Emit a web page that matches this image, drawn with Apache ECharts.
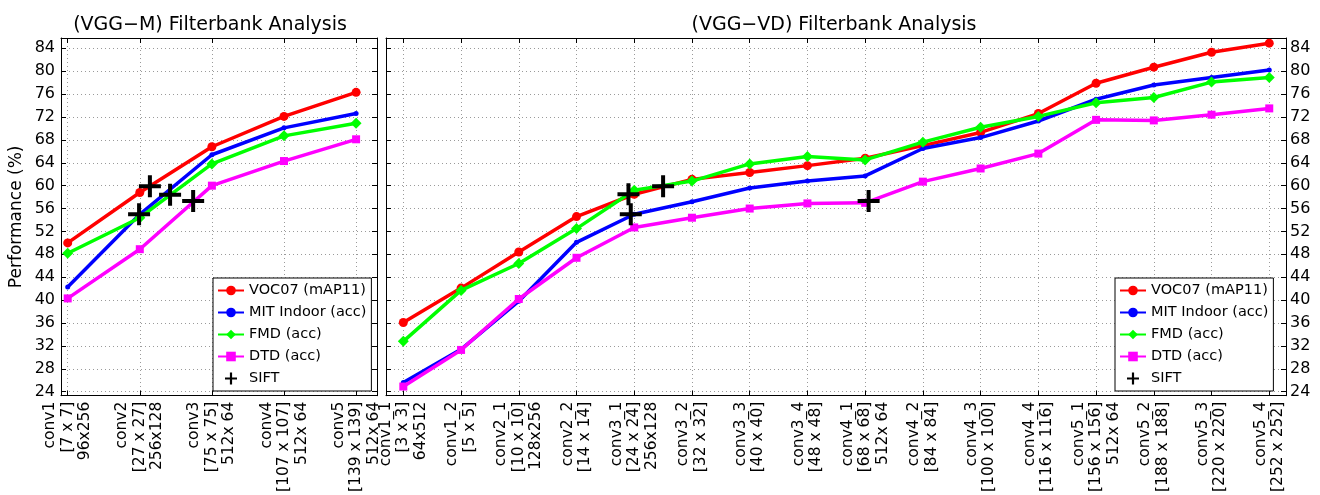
<!doctype html>
<html>
<head>
<meta charset="utf-8">
<title>Filterbank Analysis</title>
<script src="https://cdn.jsdelivr.net/npm/echarts@6/dist/echarts.min.js"></script>
<style>
  html, body { margin: 0; padding: 0; background: #fff; }
  #chart { width: 1320px; height: 495px; }
</style>
</head>
<body>
<div id="chart"></div>
<script>
  // data
  var seriesNames = ['VOC07 (mAP11)', 'MIT Indoor (acc)', 'FMD (acc)', 'DTD (acc)', 'SIFT'];
  var yTicks = [24, 28, 32, 36, 40, 44, 48, 52, 56, 60, 64, 68, 72, 76, 80, 84];

  var vggmLabels = [
    'conv1\n[7 x 7]\n96x256',
    'conv2\n[27 x 27]\n256x128',
    'conv3\n[75 x 75]\n512x 64',
    'conv4\n[107 x 107]\n512x 64',
    'conv5\n[139 x 139]\n512x 64'
  ];
  var vggmVoc = [50.0, 58.8, 66.8, 72.1, 76.3];
  var vggmMit = [42.3, 55.0, 65.4, 70.1, 72.6];
  var vggmFmd = [48.2, 54.4, 63.8, 68.7, 70.9];
  var vggmDtd = [40.3, 48.9, 60.0, 64.3, 68.1];
  var vggmSiftX = [0.99, 1.14, 1.42, 1.74];
  var vggmSiftY = [55.0, 59.9, 58.4, 57.3];

  var vggvdLabels = [
    'conv1_1\n[3 x 3]\n64x512',
    'conv1_2\n[5 x 5]',
    'conv2_1\n[10 x 10]\n128x256',
    'conv2_2\n[14 x 14]',
    'conv3_1\n[24 x 24]\n256x128',
    'conv3_2\n[32 x 32]',
    'conv3_3\n[40 x 40]',
    'conv3_4\n[48 x 48]',
    'conv4_1\n[68 x 68]\n512x 64',
    'conv4_2\n[84 x 84]',
    'conv4_3\n[100 x 100]',
    'conv4_4\n[116 x 116]',
    'conv5_1\n[156 x 156]\n512x 64',
    'conv5_2\n[188 x 188]',
    'conv5_3\n[220 x 220]',
    'conv5_4\n[252 x 252]'
  ];
  var vggvdVoc = [36.1, 42.1, 48.4, 54.6, 58.5, 61.1, 62.3, 63.5, 64.8, 67.0, 69.3, 72.6, 77.9, 80.7, 83.3, 84.9];
  var vggvdMit = [25.6, 31.4, 39.8, 50.1, 55.0, 57.2, 59.6, 60.8, 61.7, 66.5, 68.4, 71.3, 75.1, 77.6, 78.9, 80.2];
  var vggvdFmd = [32.8, 41.7, 46.4, 52.5, 59.2, 60.8, 63.8, 65.1, 64.5, 67.6, 70.2, 72.1, 74.5, 75.4, 78.1, 78.9];
  var vggvdDtd = [24.9, 31.3, 40.2, 47.4, 52.7, 54.4, 56.0, 56.9, 57.0, 60.7, 63.0, 65.6, 71.5, 71.4, 72.4, 73.5];
  var vggvdSiftX = [3.90, 3.94, 4.50, 8.06];
  var vggvdSiftY = [58.5, 55.0, 59.9, 57.3];

  var FONT = '"DejaVu Sans", "Liberation Sans", sans-serif';
  var YMIN = 23.3, YMAX = 85.8;
  var CROSS = 'path://M9,0h4v9h9v4h-9v9h-4v-9h-9v-4h9z';

  function idx(n) {
    var a = [];
    for (var i = 0; i < n; i++) a.push(i);
    return a;
  }
  function pairs(vals) {
    return vals.map(function (v, i) { return [i, v]; });
  }
  function zip(xs, ys) {
    return xs.map(function (x, i) { return [x, ys[i]]; });
  }

  var gridLine = { show: true, lineStyle: { color: '#9a9a9a', type: [1, 3], width: 1 } };
  var frame = { show: true, onZero: false, lineStyle: { color: '#000', width: 1 } };

  function xAxisFor(grid, pos, min, max, labels) {
    var ticks = idx(labels.length);
    return {
      type: 'value', gridIndex: grid, position: pos, min: min, max: max,
      axisLine: frame,
      axisTick: { show: true, inside: true, length: 5, customValues: ticks, lineStyle: { color: '#000' } },
      axisLabel: pos === 'bottom' ? {
        show: true, rotate: 90, margin: 6, customValues: ticks,
        color: '#000', fontFamily: FONT, fontSize: 15.5, lineHeight: 17.5,
        formatter: function (v) { return labels[Math.round(v)] || ''; }
      } : { show: false },
      splitLine: pos === 'bottom' ? gridLine : { show: false }
    };
  }
  function yAxisFor(grid, pos, showLabel, showSplit, name) {
    return {
      type: 'value', gridIndex: grid, position: pos, min: YMIN, max: YMAX,
      name: name || '', nameLocation: 'middle', nameGap: 36,
      nameTextStyle: { color: '#000', fontFamily: FONT, fontSize: 17 },
      axisLine: frame,
      axisTick: { show: true, inside: true, length: 5, customValues: yTicks, lineStyle: { color: '#000' } },
      axisLabel: showLabel ? {
        show: true, margin: pos === 'left' ? 6 : 4, customValues: yTicks,
        color: '#000', fontFamily: FONT, fontSize: 16
      } : { show: false },
      splitLine: showSplit ? gridLine : { show: false }
    };
  }

  var styles = [
    { color: '#ff0000', symbol: 'circle', size: 9 },
    { color: '#0000ff', symbol: 'circle', size: 5 },
    { color: '#00ff00', symbol: 'diamond', size: 11 },
    { color: '#ff00ff', symbol: 'rect', size: 8 }
  ];

  function lineSeries(k, data, xi, yi) {
    var s = styles[k];
    return {
      name: seriesNames[k], type: 'line', xAxisIndex: xi, yAxisIndex: yi,
      data: data, symbol: s.symbol, symbolSize: s.size, showSymbol: true,
      lineStyle: { color: s.color, width: 3.5 },
      itemStyle: { color: s.color },
      animation: false, z: 2 + k
    };
  }
  function siftSeries(data, xi, yi) {
    return {
      name: seriesNames[4], type: 'scatter', xAxisIndex: xi, yAxisIndex: yi,
      data: data, symbol: CROSS, symbolSize: 22,
      itemStyle: { color: '#000', opacity: 1 }, animation: false, z: 10
    };
  }

  function legendAt(left) {
    return {
      orient: 'vertical', left: left, top: 278,
      data: seriesNames, itemWidth: 26, itemHeight: 12, itemGap: 7,
      padding: [5, 5, 5, 4],
      backgroundColor: '#fff', borderColor: '#000', borderWidth: 1,
      textStyle: { color: '#000', fontFamily: FONT, fontSize: 14.5 },
      selectedMode: false
    };
  }

  var chart = echarts.init(document.getElementById('chart'));
  var option = {
    backgroundColor: '#fff',
    animation: false,
    title: [
      { text: '(VGG\u2212M) Filterbank Analysis', left: 205, top: 11, textAlign: 'center',
        textStyle: { color: '#000', fontFamily: FONT, fontSize: 19, fontWeight: 'normal' } },
      { text: '(VGG\u2212VD) Filterbank Analysis', left: 829, top: 11, textAlign: 'center',
        textStyle: { color: '#000', fontFamily: FONT, fontSize: 19, fontWeight: 'normal' } }
    ],
    legend: [legendAt(213), legendAt(1115)],
    grid: [
      { left: 61, top: 38, width: 316, height: 359 },
      { left: 386, top: 38, width: 900, height: 359 }
    ],
    xAxis: [
      xAxisFor(0, 'bottom', -0.093, 4.29, vggmLabels),
      xAxisFor(0, 'top', -0.093, 4.29, vggmLabels),
      xAxisFor(1, 'bottom', -0.30, 15.29, vggvdLabels),
      xAxisFor(1, 'top', -0.30, 15.29, vggvdLabels)
    ],
    yAxis: [
      yAxisFor(0, 'left', true, true, 'Performance (%)'),
      yAxisFor(0, 'right', false, false),
      yAxisFor(1, 'left', false, true),
      yAxisFor(1, 'right', true, false)
    ],
    series: [
      lineSeries(0, pairs(vggmVoc), 0, 0),
      lineSeries(1, pairs(vggmMit), 0, 0),
      lineSeries(2, pairs(vggmFmd), 0, 0),
      lineSeries(3, pairs(vggmDtd), 0, 0),
      siftSeries(zip(vggmSiftX, vggmSiftY), 0, 0),
      lineSeries(0, pairs(vggvdVoc), 2, 2),
      lineSeries(1, pairs(vggvdMit), 2, 2),
      lineSeries(2, pairs(vggvdFmd), 2, 2),
      lineSeries(3, pairs(vggvdDtd), 2, 2),
      siftSeries(zip(vggvdSiftX, vggvdSiftY), 2, 2)
    ]
  };
  chart.setOption(option);
</script>
</body>
</html>
